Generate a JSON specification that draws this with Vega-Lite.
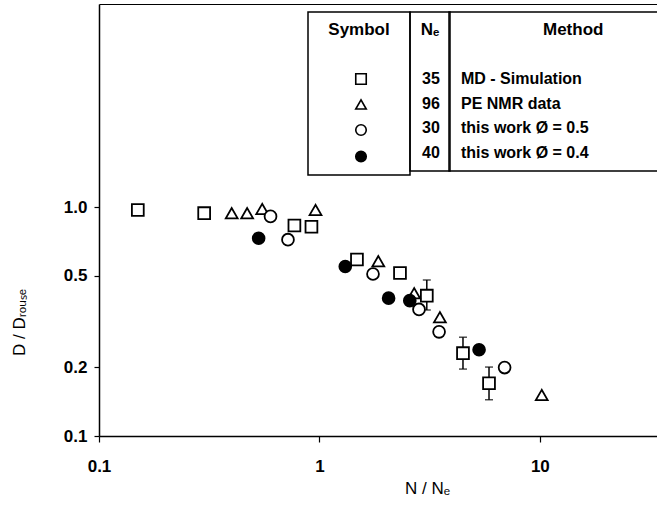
{
  "$schema": "https://vega.github.io/schema/vega-lite/v6.json",
  "width": 558,
  "height": 432,
  "autosize": {"type": "none"},
  "padding": {"left": 99, "top": 4, "right": 0, "bottom": 81},
  "background": "white",
  "config": {
    "font": "Liberation Sans",
    "view": {"stroke": null},
    "axis": {"grid": false, "domainColor": "black", "tickColor": "black", "labelColor": "black", "titleColor": "black", "domainWidth": 1.5, "tickWidth": 1.2},
    "legend": {"padding": 10, "strokeColor": "black", "strokeWidth": 1.5, "cornerRadius": 0, "titleFontSize": 17, "titleFontWeight": "bold", "titleColor": "black", "labelFontSize": 16, "labelFontWeight": "bold", "labelColor": "black", "titlePadding": 32, "rowPadding": 8.5, "labelLimit": 400, "titleLimit": 400}
  },
  "data": {"values": [
    {"method": "MD - Simulation", "ne": "35", "nn": 0.15, "d": 0.97},
    {"method": "MD - Simulation", "ne": "35", "nn": 0.30, "d": 0.94},
    {"method": "MD - Simulation", "ne": "35", "nn": 0.77, "d": 0.83},
    {"method": "MD - Simulation", "ne": "35", "nn": 0.92, "d": 0.82},
    {"method": "MD - Simulation", "ne": "35", "nn": 1.48, "d": 0.59},
    {"method": "MD - Simulation", "ne": "35", "nn": 2.32, "d": 0.515},
    {"method": "MD - Simulation", "ne": "35", "nn": 3.07, "d": 0.41, "lo": 0.355, "hi": 0.48},
    {"method": "MD - Simulation", "ne": "35", "nn": 4.48, "d": 0.23, "lo": 0.196, "hi": 0.27},
    {"method": "MD - Simulation", "ne": "35", "nn": 5.88, "d": 0.17, "lo": 0.144, "hi": 0.20},
    {"method": "PE NMR data", "ne": "96", "nn": 0.40, "d": 0.94},
    {"method": "PE NMR data", "ne": "96", "nn": 0.47, "d": 0.94},
    {"method": "PE NMR data", "ne": "96", "nn": 0.55, "d": 0.98},
    {"method": "PE NMR data", "ne": "96", "nn": 0.96, "d": 0.97},
    {"method": "PE NMR data", "ne": "96", "nn": 1.85, "d": 0.58},
    {"method": "PE NMR data", "ne": "96", "nn": 2.69, "d": 0.42},
    {"method": "PE NMR data", "ne": "96", "nn": 3.52, "d": 0.33},
    {"method": "PE NMR data", "ne": "96", "nn": 10.2, "d": 0.151},
    {"method": "this work Ø = 0.5", "ne": "30", "nn": 0.60, "d": 0.91},
    {"method": "this work Ø = 0.5", "ne": "30", "nn": 0.72, "d": 0.72},
    {"method": "this work Ø = 0.5", "ne": "30", "nn": 1.75, "d": 0.51},
    {"method": "this work Ø = 0.5", "ne": "30", "nn": 2.83, "d": 0.357},
    {"method": "this work Ø = 0.5", "ne": "30", "nn": 3.49, "d": 0.285},
    {"method": "this work Ø = 0.5", "ne": "30", "nn": 6.92, "d": 0.199},
    {"method": "this work Ø = 0.4", "ne": "40", "nn": 0.53, "d": 0.73},
    {"method": "this work Ø = 0.4", "ne": "40", "nn": 1.31, "d": 0.55},
    {"method": "this work Ø = 0.4", "ne": "40", "nn": 2.06, "d": 0.40},
    {"method": "this work Ø = 0.4", "ne": "40", "nn": 2.57, "d": 0.39},
    {"method": "this work Ø = 0.4", "ne": "40", "nn": 5.3, "d": 0.238}
  ]},
  "layer": [
    {
      "transform": [{"filter": "datum.lo != null"}],
      "mark": {"type": "errorbar", "color": "black", "ticks": {"size": 8, "thickness": 1.5}, "rule": {"strokeWidth": 1.5}},
      "encoding": {
        "x": {"field": "nn", "type": "quantitative", "axis": null},
        "y": {"field": "lo", "type": "quantitative", "title": "D / Dᵣₒᵤₛₑ"},
        "y2": {"field": "hi"}
      }
    },
    {
      "mark": {"type": "point", "filled": true, "stroke": "black", "strokeWidth": 1.8, "opacity": 1, "size": 140},
      "encoding": {
        "x": {"field": "nn", "type": "quantitative",
          "scale": {"type": "log", "domain": [0.1, 34], "nice": false},
          "axis": {"orient": "bottom", "values": [0.1, 1, 10], "format": "~g", "labelFontSize": 17, "labelFontWeight": "bold", "labelPadding": 16, "tickSize": 6, "labelFlush": false, "title": "N / Nₑ", "titleFontSize": 17, "titleFontWeight": "normal", "titleColor": "black", "titleX": 328, "titleY": 57, "titleBaseline": "alphabetic", "titleAlign": "center"}},
        "y": {"field": "d", "type": "quantitative", "title": "D / Dᵣₒᵤₛₑ",
          "scale": {"type": "log", "domain": [0.1, 7.7], "nice": false},
          "axis": {"orient": "left", "values": [0.1, 0.2, 0.5, 1], "format": ".1f", "labelFontSize": 17, "labelFontWeight": "bold", "labelPadding": 7, "tickSize": 5, "titleFontSize": 17, "titleFontWeight": "normal", "titleColor": "black", "titleX": -75, "titleY": 318, "titleAngle": 270, "titleAlign": "center", "titleBaseline": "alphabetic"}},
        "stroke": {"value": "black"},
        "shape": {"field": "method", "type": "nominal", "title": "Symbol",
          "scale": {"domain": ["MD - Simulation", "PE NMR data", "this work Ø = 0.5", "this work Ø = 0.4"], "range": ["square", "triangle-up", "circle", "circle"]},
          "legend": {"orient": "none", "legendX": 209, "legendY": 8, "titleAnchor": "middle", "labelExpr": "'MM'", "labelOpacity": 0, "labelOffset": 4, "symbolOffset": 35, "symbolSize": 110, "symbolStrokeWidth": 1.6, "symbolOpacity": 1}},
        "fill": {"field": "method", "type": "nominal", "title": "Symbol",
          "scale": {"domain": ["MD - Simulation", "PE NMR data", "this work Ø = 0.5", "this work Ø = 0.4"], "range": ["white", "white", "white", "black"]},
          "legend": {"orient": "none", "legendX": 209, "legendY": 8, "titleAnchor": "middle", "labelExpr": "'MM'", "labelOpacity": 0, "labelOffset": 4, "symbolOffset": 35, "symbolSize": 110, "symbolStrokeWidth": 1.6, "symbolOpacity": 1}}
      }
    },
    {
      "mark": {"type": "point", "filled": true, "opacity": 0},
      "encoding": {
        "x": {"field": "nn", "type": "quantitative", "axis": {"orient": "top", "labels": false, "ticks": false, "title": null, "domainWidth": 1.2}},
        "y": {"field": "d", "type": "quantitative", "title": "D / Dᵣₒᵤₛₑ"},
        "stroke": {"field": "ne", "type": "nominal", "title": "Nₑ",
          "scale": {"domain": ["35", "96", "30", "40"], "range": ["transparent", "transparent", "transparent", "transparent"]},
          "legend": {"orient": "none", "legendX": 311, "legendY": 8, "titleAnchor": "middle", "symbolSize": 4, "symbolStrokeWidth": 0, "symbolOpacity": 0, "labelOffset": -14}},
        "color": {"field": "method", "type": "nominal", "title": "⠀⠀⠀⠀⠀⠀⠀Method⠀⠀⠀⠀⠀⠀⠀⠀",
          "sort": {"op": "count", "order": "descending"},
          "scale": {"range": ["transparent", "transparent", "transparent", "transparent"]},
          "legend": {"orient": "none", "legendX": 350, "legendY": 8, "titleAnchor": "start", "symbolSize": 4, "symbolOpacity": 0, "symbolStrokeWidth": 0, "labelOffset": -14}}
      }
    }
  ]
}
